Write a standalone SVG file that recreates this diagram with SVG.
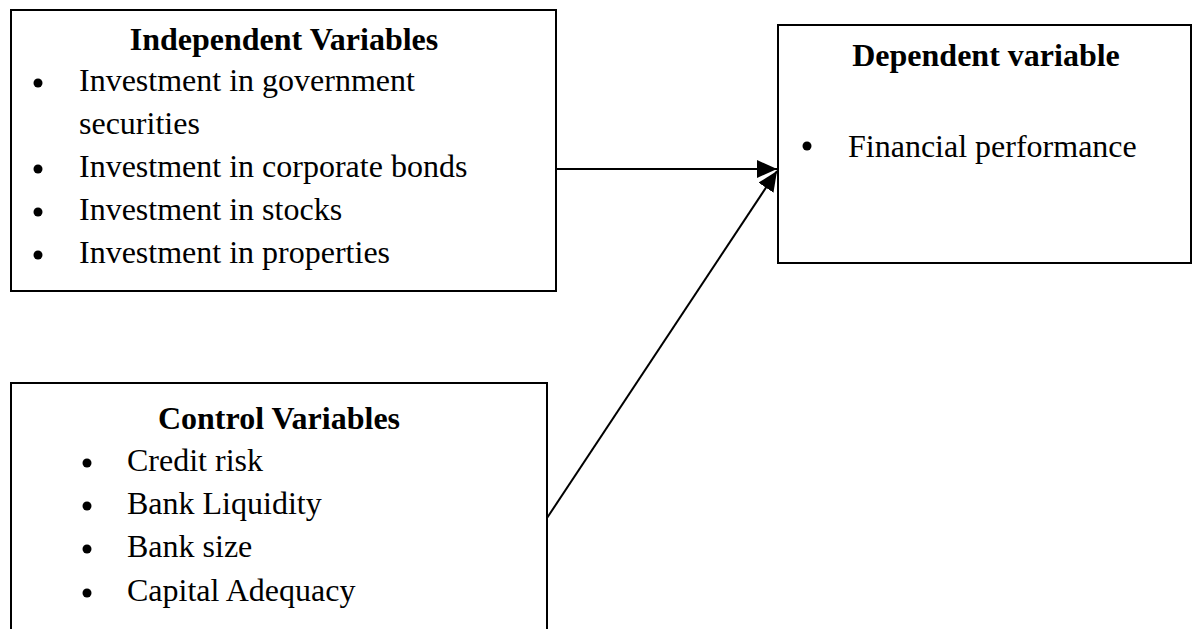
<svg xmlns="http://www.w3.org/2000/svg" width="1196" height="629" viewBox="0 0 1196 629">
<style>
.box{fill:#fff;stroke:#000;stroke-width:2}
.h{font-family:"Liberation Serif","Times New Roman",serif;font-size:32px;font-weight:bold;fill:#000;text-anchor:middle}
.t{font-family:"Liberation Serif","Times New Roman",serif;font-size:32px;fill:#000}
.b{fill:#000}
.c{stroke:#000;stroke-width:2;fill:none}
</style>
<defs>
<marker id="arr" markerUnits="userSpaceOnUse" markerWidth="22" markerHeight="18" refX="20" refY="9" orient="auto">
<path d="M0,0 L20,9 L0,18 Z" fill="#000"/>
</marker>
</defs>
<rect width="1196" height="629" fill="#fff"/>
<g id="independent">
<rect class="box" x="11" y="10" width="545" height="281"/>
<text class="h" x="284" y="50">Independent Variables</text>
<circle class="b" cx="38" cy="83" r="4.5"/>
<text class="t" x="79" y="91">Investment in government</text>
<text class="t" x="79" y="134">securities</text>
<circle class="b" cx="38" cy="169" r="4.5"/>
<text class="t" x="79" y="177">Investment in corporate bonds</text>
<circle class="b" cx="38" cy="212" r="4.5"/>
<text class="t" x="79" y="220">Investment in stocks</text>
<circle class="b" cx="38" cy="255" r="4.5"/>
<text class="t" x="79" y="263">Investment in properties</text>
</g>
<g id="control">
<rect class="box" x="11" y="383" width="536" height="260"/>
<text class="h" x="279" y="429">Control Variables</text>
<circle class="b" cx="87" cy="463" r="4.5"/>
<text class="t" x="127" y="471">Credit risk</text>
<circle class="b" cx="87" cy="506" r="4.5"/>
<text class="t" x="127" y="514">Bank Liquidity</text>
<circle class="b" cx="87" cy="549" r="4.5"/>
<text class="t" x="127" y="557">Bank size</text>
<circle class="b" cx="87" cy="593" r="4.5"/>
<text class="t" x="127" y="601">Capital Adequacy</text>
</g>
<g id="dependent">
<rect class="box" x="778" y="25" width="413" height="238"/>
<text class="h" x="986" y="66">Dependent variable</text>
<circle class="b" cx="807" cy="146" r="4.5"/>
<text class="t" x="848" y="157">Financial performance</text>
</g>
<g id="connectors">
<line class="c" x1="556" y1="169" x2="777" y2="169" marker-end="url(#arr)"/>
<line class="c" x1="547" y1="518" x2="777" y2="171" marker-end="url(#arr)"/>
</g>
</svg>
